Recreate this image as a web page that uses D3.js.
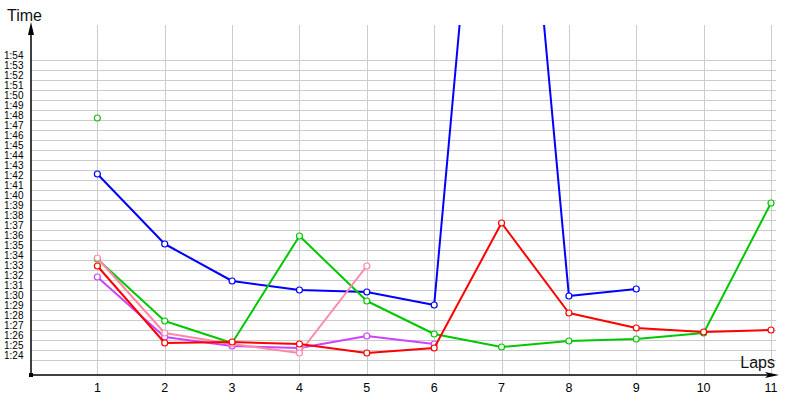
<!DOCTYPE html>
<html>
<head>
<meta charset="utf-8">
<script src="https://cdn.jsdelivr.net/npm/d3@7"></script>
<style>
  body { margin: 0; background: #fff; }
  svg { display: block; font-family: "Liberation Sans", Arial, sans-serif; }
</style>
</head>
<body>
<div id="chart"></div>
<script>
// lap numbers and lap times (seconds) per driver
const laps = [1, 2, 3, 4, 5, 6, 7, 8, 9, 10, 11];
const timeTicks = d3.range(84, 115); // 1:24 .. 1:54

const blueTimes   = [102.6, 95.6, 91.9, 91.0, 90.8, 89.5, 163.8, 90.4, 91.1];
const greenTimes  = [94.1, 87.9, 85.7, 96.4, 89.9, 86.6, 85.3, 85.9, 86.1, 86.7, 99.7];
const purpleTimes = [92.3, 86.3, 85.4, 85.2, 86.4, 85.6];
const pinkTimes   = [94.2, 86.7, 85.6, 84.7, 93.4];
const redTimes    = [93.4, 85.7, 85.8, 85.6, 84.7, 85.2, 97.7, 88.7, 87.2, 86.8, 87.0];
const singleTimes = [108.2];

const series = [
  { times: singleTimes, color: "#22bb22" },
  { times: blueTimes,   color: "#0000ff" },
  { times: greenTimes,  color: "#00c800" },
  { times: purpleTimes, color: "#cc44ff" },
  { times: pinkTimes,   color: "#ff88a8" },
  { times: redTimes,    color: "#ff0000" }
];

const W = 800, H = 400;
const x0 = 31, yAxisY = 375;

const svg = d3.select("#chart").append("svg")
  .attr("width", W)
  .attr("height", H);

const x = d3.scaleLinear().domain([0, 11]).range([30, 771]);
const y = d3.scaleLinear().domain([84, 114]).range([360, 60]);

const fmt = v => `${Math.floor(v / 60)}:${String(v % 60).padStart(2, "0")}`;

// horizontal grid
svg.append("g")
  .selectAll("line")
  .data(timeTicks)
  .join("line")
    .attr("x1", x0).attr("x2", 776)
    .attr("y1", d => y(d) + 0.5).attr("y2", d => y(d) + 0.5)
    .attr("stroke", "#cccccc");

// vertical grid
svg.append("g")
  .selectAll("line")
  .data(laps)
  .join("line")
    .attr("x1", d => Math.round(x(d)) + 0.5).attr("x2", d => Math.round(x(d)) + 0.5)
    .attr("y1", 25).attr("y2", yAxisY)
    .attr("stroke", "#cccccc");

// y tick labels
svg.append("g")
  .selectAll("text")
  .data(timeTicks)
  .join("text")
    .attr("x", 4)
    .attr("y", d => y(d) - 1)
    .attr("font-size", "10px")
    .attr("fill", "#000")
    .text(fmt);

// x tick labels
svg.append("g")
  .selectAll("text")
  .data(laps)
  .join("text")
    .attr("x", d => x(d))
    .attr("y", 392)
    .attr("text-anchor", "middle")
    .attr("font-size", "12.5px")
    .attr("fill", "#000")
    .text(d => d);

// clipping for the plot
svg.append("clipPath").attr("id", "plot")
  .append("rect").attr("x", x0).attr("y", 25).attr("width", 760).attr("height", 350);

const line = d3.line()
  .x((d, i) => x(laps[i]))
  .y(d => y(d));

const plot = svg.append("g").attr("clip-path", "url(#plot)");

series.forEach(s => {
  if (s.times.length > 1) {
    plot.append("path")
      .datum(s.times)
      .attr("d", line)
      .attr("fill", "none")
      .attr("stroke", s.color)
      .attr("stroke-width", 2)
      .attr("stroke-linejoin", "round");
  }
  plot.append("g")
    .selectAll("circle")
    .data(s.times)
    .join("circle")
      .attr("cx", (d, i) => x(laps[i]))
      .attr("cy", d => y(d))
      .attr("r", 3)
      .attr("fill", "#fff")
      .attr("stroke", s.color)
      .attr("stroke-width", 1.2);
});

// axes
svg.append("line")
  .attr("x1", x0).attr("x2", x0)
  .attr("y1", 34).attr("y2", yAxisY)
  .attr("stroke", "#000").attr("stroke-width", 1.5);
svg.append("line")
  .attr("x1", x0).attr("x2", 768)
  .attr("y1", yAxisY).attr("y2", yAxisY)
  .attr("stroke", "#000").attr("stroke-width", 1.5);
svg.append("path")
  .attr("d", `M${x0},22 L${x0 - 3},35 L${x0 + 3},35 Z`)
  .attr("fill", "#000");
svg.append("path")
  .attr("d", `M779,${yAxisY} L765,${yAxisY - 3} L768,${yAxisY} L765,${yAxisY + 3} Z`)
  .attr("fill", "#000");
svg.append("rect")
  .attr("x", x0 - 2).attr("y", yAxisY - 2)
  .attr("width", 4).attr("height", 4)
  .attr("fill", "#000");

// axis titles
svg.append("text")
  .attr("x", 7).attr("y", 21)
  .attr("font-size", "16px")
  .attr("fill", "#111")
  .text("Time");
svg.append("text")
  .attr("x", 775).attr("y", 368)
  .attr("text-anchor", "end")
  .attr("font-size", "16px")
  .attr("fill", "#111")
  .text("Laps");
</script>
</body>
</html>
